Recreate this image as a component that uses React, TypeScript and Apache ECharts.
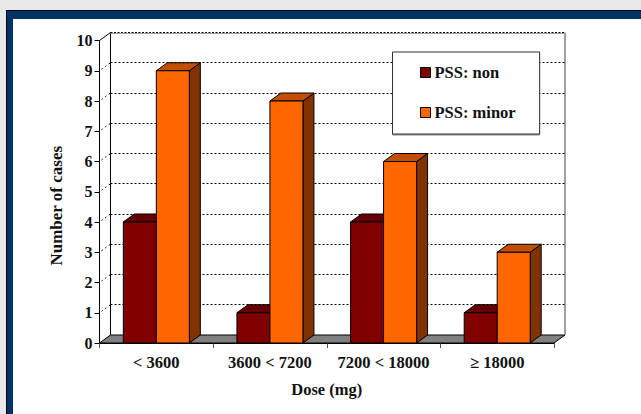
import React, { useEffect, useRef } from "react";
import * as echarts from "echarts";

const categories = ["< 3600", "3600 < 7200", "7200 < 18000", "≥ 18000"];
const pssNon = [4, 1, 4, 1];
const pssMinor = [9, 8, 6, 3];
const yTicks = [1, 2, 3, 4, 5, 6, 7, 8, 9];

const DX = 11;
const DY = -8;
const BAR_W = 33;
const FONT = '"Liberation Serif", "Times New Roman", serif';

function barSeries(name: string, values: number[], offset: number, front: string, top: string, side: string) {
  return {
    type: "custom",
    name,
    coordinateSystem: "cartesian2d",
    clip: false,
    z: 5,
    itemStyle: { color: front, borderColor: "#000", borderWidth: 1 },
    encode: { x: 0, y: 1 },
    data: values.map((v, i) => [i, v]),
    renderItem: (_p: any, api: any) => {
      const [cx, y1] = api.coord([api.value(0), api.value(1)]);
      const [, y0] = api.coord([api.value(0), 0]);
      const x0 = cx + offset * BAR_W;
      const x1 = x0 + BAR_W;
      const st = (fill: string) => ({ fill, stroke: "#000", lineWidth: 1, lineJoin: "round" });
      return {
        type: "group",
        children: [
          { type: "polygon", shape: { points: [[x1, y1], [x1 + DX, y1 + DY], [x1 + DX, y0 + DY], [x1, y0]] }, style: st(side) },
          { type: "polygon", shape: { points: [[x0, y1], [x0 + DX, y1 + DY], [x1 + DX, y1 + DY], [x1, y1]] }, style: st(top) },
          { type: "rect", shape: { x: x0, y: y1, width: BAR_W, height: y0 - y1 }, style: st(front) },
        ],
      };
    },
  };
}

const wallSeries = {
  type: "custom",
  coordinateSystem: "cartesian2d",
  clip: false,
  silent: true,
  z: 1,
  encode: { x: 0, y: 1 },
  data: [[0, 0]],
  renderItem: (p: any, api: any) => {
    const c = p.coordSys;
    const xL = c.x;
    const xR = c.x + c.width;
    const yT = c.y;
    const yB = c.y + c.height;
    const solid = { stroke: "#000", lineWidth: 1 };
    return {
      type: "group",
      children: [
        { type: "polygon", shape: { points: [[xL, yB], [xL + DX, yB + DY], [xR + DX, yB + DY], [xR, yB]] }, style: { fill: "#808080", stroke: "#000", lineWidth: 1 } },
        { type: "line", shape: { x1: xL + DX, y1: yT + DY, x2: xL + DX, y2: yB + DY }, style: solid },
        { type: "line", shape: { x1: xL, y1: yT, x2: xL + DX, y2: yT + DY }, style: solid },
        { type: "line", shape: { x1: xR + DX, y1: yT + DY, x2: xR + DX, y2: yB + DY }, style: { stroke: "#808080", lineWidth: 1.5 } },
        { type: "line", shape: { x1: xL + DX, y1: yT + DY + 1, x2: xR + DX, y2: yT + DY + 1 }, style: { stroke: "#a0a0a0", lineWidth: 1 } },
        { type: "line", shape: { x1: xL + DX, y1: yT + DY, x2: xR + DX, y2: yT + DY }, style: { stroke: "#000", lineWidth: 1, lineDash: [2, 1.5] } },
        ...yTicks.flatMap((t) => {
          const y = api.coord([0, t])[1];
          const yCrisp = Math.floor(y + DY) + 0.5;
          const dash = { stroke: "#000", lineWidth: 1, lineDash: [2, 2] };
          return [
            { type: "line", shape: { x1: xL + DX, y1: yCrisp, x2: xR + DX, y2: yCrisp }, style: dash },
            { type: "line", shape: { x1: xL + 2, y1: y - 1.5, x2: xL + DX, y2: y + DY }, style: { stroke: "#000", lineWidth: 1, lineDash: [1.5, 3] } },
          ];
        }),
      ],
    };
  },
};

export default function App() {
  const ref = useRef<HTMLDivElement>(null);
  useEffect(() => {
    document.body.style.margin = "0";
    const chart = echarts.init(ref.current!, undefined, { renderer: "svg" });
    chart.setOption({
      animation: false,
      textStyle: { fontFamily: FONT },
      grid: { left: 99.5, top: 40.5, width: 454.5, height: 302.5 },
      legend: {
        left: 392.5,
        top: 52,
        orient: "vertical",
        data: ["PSS: non", "PSS: minor"],
        backgroundColor: "#fff",
        borderColor: "#333",
        borderWidth: 1,
        shadowColor: "#888",
        shadowBlur: 0,
        shadowOffsetX: 0,
        shadowOffsetY: 1,
        padding: [12, 24, 13, 27.5],
        itemWidth: 10,
        itemHeight: 10,
        itemGap: 23,
        icon: "rect",
        itemStyle: { borderColor: "#000", borderWidth: 1 },
        textStyle: { fontFamily: FONT, fontWeight: "bold", fontSize: 16.5, color: "#111", padding: [0, 0, 0, -1] },
        z: 20,
      },
      xAxis: {
        type: "category",
        data: categories,
        name: "Dose (mg)",
        nameLocation: "middle",
        nameGap: 38,
        nameTextStyle: { fontFamily: FONT, fontWeight: "bold", fontSize: 16.5, color: "#111" },
        axisLine: { lineStyle: { color: "#000", width: 1 } },
        axisTick: { show: true, length: 5, lineStyle: { color: "#555" } },
        axisLabel: { interval: 0, fontFamily: FONT, fontWeight: "bold", fontSize: 16.5, color: "#111", margin: 11 },
        splitLine: { show: false },
      },
      yAxis: {
        type: "value",
        min: 0,
        max: 10,
        interval: 1,
        name: "Number of cases",
        nameLocation: "middle",
        nameGap: 35,
        nameRotate: 90,
        nameTextStyle: { fontFamily: FONT, fontWeight: "bold", fontSize: 17, color: "#111", padding: [0, 28, 0, 0] },
        axisLine: { show: true, lineStyle: { color: "#000", width: 1 } },
        axisTick: { show: true, length: 5, lineStyle: { color: "#000" } },
        axisLabel: { fontFamily: FONT, fontWeight: "bold", fontSize: 16, color: "#111", margin: 7 },
        splitLine: { show: false },
      },
      series: [
        wallSeries,
        barSeries("PSS: non", pssNon, -1, "#800000", "#660000", "#400000"),
        barSeries("PSS: minor", pssMinor, 0, "#FF6600", "#C05000", "#803300"),
      ],
    });
    return () => chart.dispose();
  }, []);
  return (
    <div style={{ position: "relative", width: 641, height: 414, overflow: "hidden", background: "#e8e8e8" }}>
      <div style={{ position: "absolute", left: 6, top: 10, right: -20, bottom: -20, background: "#003366", borderTop: "1px solid #000", borderLeft: "1px solid #000" }} />
      <div style={{ position: "absolute", left: 13, top: 19, right: 0, bottom: 0, background: "#fff" }} />
      <div ref={ref} style={{ position: "absolute", left: 0, top: 0, width: 641, height: 414 }} />
    </div>
  );
}
